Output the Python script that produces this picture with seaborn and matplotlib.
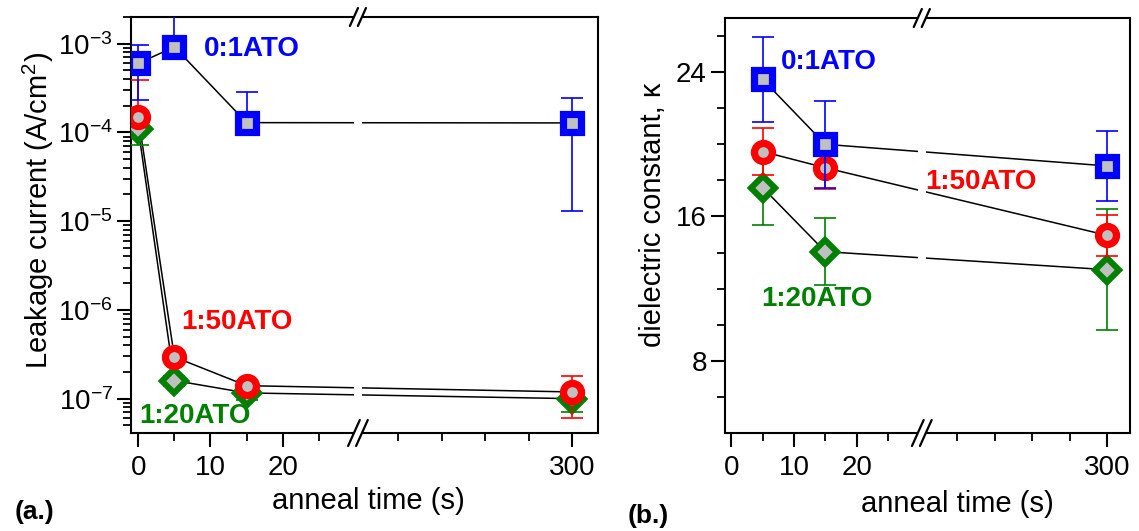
import numpy as np
import matplotlib
matplotlib.use("Agg")
import matplotlib.pyplot as plt
import seaborn as sns
from matplotlib.patches import Rectangle
from matplotlib.ticker import (FixedLocator, NullFormatter, LogLocator,
                               LogFormatterSciNotation, FixedFormatter)

# ---------------- data ----------------
# (a) leakage current vs anneal time
time_a = [0, 5, 15, 300]
leak_01 = [6.0e-4, 9.2e-4, 1.29e-4, 1.28e-4]
leak_01_err = [3.65e-4, 1.3e-3, 1.54e-4, 1.15e-4]
leak_150 = [1.5e-4, 2.95e-7, 1.4e-7, 1.19e-7]
leak_150_err = [2.35e-4, 3.0e-8, 2.0e-8, 5.9e-8]
leak_120 = [1.1e-4, 1.6e-7, 1.16e-7, 1.0e-7]
leak_120_err = [3.8e-5, 2.0e-8, 2.0e-8, 3.0e-8]

# (b) dielectric constant vs anneal time
time_b = [5, 15, 300]
kappa_01 = [23.6, 20.0, 18.8]
kappa_01_err = [2.37, 2.4, 1.95]
kappa_150 = [19.6, 18.7, 14.95]
kappa_150_err = [1.3, 1.2, 1.15]
kappa_120 = [17.6, 14.05, 13.05]
kappa_120_err = [2.07, 1.85, 3.35]

series_colors = ["#008000", "#ff0000", "#0000ff"]
series_markers = ["D", "o", "s"]

major_x = [0, 10, 20, 300]
minor_x = [5, 15, 25, 100, 150, 200, 250]

# ---------------- style ----------------
sns.set_theme(style="ticks")
plt.rcParams["font.family"] = ["Liberation Sans", "DejaVu Sans"]
plt.rcParams["mathtext.fontset"] = "custom"
plt.rcParams["mathtext.rm"] = "Liberation Sans"
plt.rcParams["mathtext.it"] = "Liberation Sans:italic"
plt.rcParams["mathtext.bf"] = "Liberation Sans:bold"
plt.rcParams["axes.linewidth"] = 1.5
plt.rcParams["axes.edgecolor"] = "black"
plt.rcParams["text.color"] = "black"
plt.rcParams["axes.labelcolor"] = "black"
plt.rcParams["xtick.color"] = "black"
plt.rcParams["ytick.color"] = "black"

FIG_W, FIG_H = 1139, 531
fig = plt.figure(figsize=(FIG_W / 100, FIG_H / 100), dpi=100)
fig.patch.set_facecolor("white")
axL = fig.add_axes([131 / FIG_W, 98 / FIG_H, 467 / FIG_W, 416 / FIG_H])
axR = fig.add_axes([725 / FIG_W, 98 / FIG_H, 405 / FIG_W, 415 / FIG_H])

# broken time axis: 0-30 s linear, then a compressed segment up to 330 s
BRK_L, BRK_R, SQUEEZE = 30.4, 53.3, 8.33
XMIN, XMAX = -1.0, 330.0


def fwd(x):
    x = np.asarray(x, dtype=float)
    return np.where(x <= BRK_L, x - BRK_L,
                    np.where(x >= BRK_R, (x - BRK_R) / SQUEEZE, 0.0))


def inv(u):
    u = np.asarray(u, dtype=float)
    return np.where(u <= 0, u + BRK_L, u * SQUEEZE + BRK_R)


def draw_panel(ax, t, values, errors, log=False):
    ax.set_xscale("function", functions=(fwd, inv))
    if log:
        ax.set_yscale("log")
    for i, (vals, errs, col, mk) in enumerate(
            zip(values, errors, series_colors, series_markers)):
        vals = np.asarray(vals)
        errs = np.asarray(errs)
        # on a log axis only the positive part of an error bar can be shown
        lower = np.where(vals - errs > 0, errs, 0.0) if log else errs
        sns.lineplot(x=t, y=vals, ax=ax, color="black", linewidth=1.1,
                     estimator=None, zorder=1)
        ax.errorbar(t, vals, yerr=[lower, errs], fmt="none", ecolor=col,
                    elinewidth=1.2, capsize=8, capthick=1.2, zorder=3 + i)
        if mk == "D":
            ms, mew = 12.0, 4.4
        else:
            ms, mew = 13.0, 5.2
        ax.plot(t, vals, ls="none", marker=mk, ms=ms, mew=mew, mec=col,
                mfc="#c0c0c0", zorder=3.5 + i)
    ax.set_xlim(XMIN, XMAX)
    ax.xaxis.set_major_locator(FixedLocator(major_x))
    ax.xaxis.set_major_formatter(FixedFormatter([str(v) for v in major_x]))
    ax.xaxis.set_minor_locator(FixedLocator(minor_x))
    ax.xaxis.set_minor_formatter(NullFormatter())
    for s in ax.spines.values():
        s.set_visible(True)
        s.set_linewidth(1.5)
        s.set_color("black")
    ax.tick_params(axis="both", which="major", direction="out", length=10,
                   width=1.5, labelsize=20, colors="black", top=False,
                   right=False)
    ax.tick_params(axis="both", which="minor", direction="out", length=6,
                   width=1.3, top=False, right=False)
    ax.tick_params(axis="x", which="major", pad=6)
    ax.tick_params(axis="y", which="major", pad=3)
    ax.set_facecolor("white")


def add_break(ax):
    f0, f1 = float(fwd(XMIN)), float(fwd(XMAX))
    frac = (0.0 - f0) / (f1 - f0)
    pos = ax.get_position()
    W = pos.width * FIG_W
    H = pos.height * FIG_H
    gap = 4.0 / W
    ax.add_patch(Rectangle((frac - gap, -0.02), 2 * gap, 1.04,
                           transform=ax.transAxes, facecolor="white",
                           edgecolor="none", zorder=2.6, clip_on=False))
    for yc, half_h in ((1.0, 9.0), (0.0, 13.0)):
        sy = half_h / H
        sx = 0.45 * half_h / W
        for dx in (-gap, gap):
            ax.plot([frac + dx - sx, frac + dx + sx], [yc - sy, yc + sy],
                    color="black", lw=1.6, transform=ax.transAxes,
                    clip_on=False, zorder=2.7)


def tag(ax, x, y, text, color):
    ax.text(x, y, text, color=color, fontsize=20, fontweight="bold",
            ha="center", va="center", transform=ax.transAxes)


# ---------------- (a) leakage current ----------------
draw_panel(axL, time_a, [leak_120, leak_150, leak_01],
           [leak_120_err, leak_150_err, leak_01_err], log=True)
axL.set_ylim(4.1e-8, 2.0e-3)
axL.yaxis.set_major_locator(FixedLocator([1e-7, 1e-6, 1e-5, 1e-4, 1e-3]))
axL.yaxis.set_major_formatter(LogFormatterSciNotation())
axL.yaxis.set_minor_locator(LogLocator(base=10, subs=np.arange(2, 10)))
axL.yaxis.set_minor_formatter(NullFormatter())
axL.set_xlabel("anneal time (s)", fontsize=21)
axL.set_ylabel("Leakage current (A/cm$^2$)", fontsize=21)
axL.xaxis.set_label_coords(0.5075, -0.163)
axL.xaxis.label.set_va("center")
axL.yaxis.set_label_coords(-0.199, 0.536)
axL.yaxis.label.set_va("center")
add_break(axL)

tag(axL, 0.259, 0.922, "0:1ATO", "#0000ff")
tag(axL, 0.227, 0.266, "1:50ATO", "#ff0000")
tag(axL, 0.137, 0.042, "1:20ATO", "#008000")

# ---------------- (b) dielectric constant ----------------
draw_panel(axR, time_b, [kappa_120, kappa_150, kappa_01],
           [kappa_120_err, kappa_150_err, kappa_01_err], log=False)
axR.set_ylim(4, 27)
axR.yaxis.set_major_locator(FixedLocator([8, 16, 24]))
axR.yaxis.set_major_formatter(FixedFormatter(["8", "16", "24"]))
axR.yaxis.set_minor_locator(FixedLocator(np.arange(6, 27, 2)))
axR.yaxis.set_minor_formatter(NullFormatter())
axR.set_xlabel("anneal time (s)", fontsize=21)
axR.set_ylabel("dielectric constant, \u03ba", fontsize=21)
axR.xaxis.set_label_coords(0.573, -0.171)
axR.xaxis.label.set_va("center")
axR.yaxis.set_label_coords(-0.178, 0.525)
axR.yaxis.label.set_va("center")
add_break(axR)

tag(axR, 0.257, 0.893, "0:1ATO", "#0000ff")
tag(axR, 0.632, 0.606, "1:50ATO", "#ff0000")
tag(axR, 0.227, 0.322, "1:20ATO", "#008000")

# panel tags
fig.text(34 / FIG_W, 1 - 512 / FIG_H, "(a.)", fontsize=19, fontweight="bold",
         ha="center", va="center")
fig.text(648 / FIG_W, 1 - 516 / FIG_H, "(b.)", fontsize=19, fontweight="bold",
         ha="center", va="center")

fig.savefig("out.png", dpi=100, facecolor="white")
